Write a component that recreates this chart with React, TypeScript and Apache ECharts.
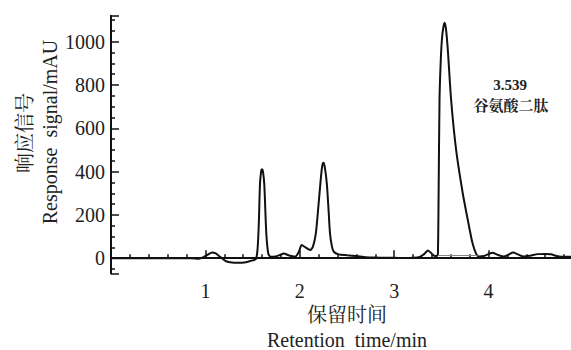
import React, { useEffect, useRef } from "react";
import * as echarts from "echarts";

const retentionTime = [
  0, 0.5, 0.85, 0.93, 0.98, 1.03, 1.07, 1.11, 1.16, 1.22, 1.28, 1.35, 1.43, 1.5, 1.535,
  1.552, 1.565, 1.578, 1.59, 1.6, 1.61, 1.624, 1.645, 1.666, 1.69, 1.74, 1.79, 1.83, 1.88,
  1.95, 1.99, 2.02, 2.06, 2.11, 2.14, 2.17, 2.195, 2.218, 2.237, 2.25, 2.263, 2.286, 2.305,
  2.32, 2.34, 2.36, 2.41, 2.5, 2.6, 2.7, 2.8, 2.9, 3.0, 3.1, 3.2, 3.27, 3.32, 3.358, 3.4,
  3.43, 3.455, 3.463, 3.47, 3.48, 3.492, 3.505, 3.52, 3.534, 3.548, 3.568, 3.603, 3.656,
  3.726, 3.78, 3.83, 3.87, 3.9, 3.95, 4.04, 4.1, 4.16, 4.21, 4.26, 4.31, 4.37, 4.44, 4.52,
  4.6, 4.66, 4.72, 4.77, 4.85, 5.0,
];
const signal = [
  0, 0, 0, -2, 5, 18, 27, 22, 5, -14, -20, -21, -18, -10, -4,
  40, 150, 340, 400, 411, 400, 340, 116, 22, 7, 8, 15, 22, 14,
  7, 30, 61, 50, 38, 55, 115, 230, 346, 425, 441, 425, 346, 220,
  115, 55, 30, 18, 14, 10, 5, 3, 2, 2, 1, 2, 6, 20, 36, 20,
  10, 12, 20, 269, 731, 900, 1008, 1065, 1088, 1060, 962, 731, 500,
  300, 176, 69, 19, 8, 10, 25, 15, 8, 16, 26, 18, 8, 12, 19,
  20, 18, 10, 7, 7, 7,
];
const peakLabelTime = "3.539";
const peakLabelName = "谷氨酸二肽";
const baselineStart = [3.463, 14];
const baselineEnd = [3.884, 14];
const xTickLabels = [1, 2, 3, 4];
const yTickLabels = [0, 200, 400, 600, 800, 1000];

const FONT = "'Liberation Serif', 'Noto Serif CJK SC', 'Noto Sans CJK SC', serif";
const TXT = "#222";

function txt(text: string, x: number, y: number, size: number, extra: any = {}) {
  return {
    type: "text",
    x,
    y,
    rotation: extra.rotation || 0,
    style: {
      text,
      fontFamily: FONT,
      fontSize: size,
      fontWeight: extra.bold ? "bold" : "normal",
      fill: TXT,
      align: "center",
      verticalAlign: "middle",
    },
  };
}

export default function App() {
  const ref = useRef<HTMLDivElement>(null);
  useEffect(() => {
    if (!ref.current) return;
    const chart = echarts.init(ref.current, undefined, { renderer: "svg" });
    const data = retentionTime.map((t, i) => [t, signal[i]]);
    chart.setOption({
      animation: false,
      backgroundColor: "#fff",
      grid: { left: 111, right: 0, top: 15.7, bottom: 76.6, containLabel: false },
      xAxis: {
        type: "value",
        min: 0,
        max: 5,
        interval: 1,
        axisLine: { show: true, lineStyle: { color: "#111", width: 2 } },
        axisTick: { show: true, inside: true, length: 8, lineStyle: { color: "#111", width: 1.5 } },
        minorTick: { show: true, splitNumber: 5, length: 4, lineStyle: { color: "#111", width: 1.5 } },
        splitLine: { show: false },
        axisLabel: {
          fontFamily: FONT,
          fontSize: 20,
          color: TXT,
          margin: 8,
          formatter: (v: number) => (xTickLabels.includes(v) ? String(v) : ""),
        },
      },
      yAxis: {
        type: "value",
        min: -70,
        max: 1120,
        splitNumber: 5,
        axisLine: { show: true, lineStyle: { color: "#111", width: 2 } },
        axisTick: { show: true, inside: true, length: 8, lineStyle: { color: "#111", width: 1.5 } },
        minorTick: { show: true, splitNumber: 4, length: 4, lineStyle: { color: "#111", width: 1.5 } },
        splitLine: { show: false },
        axisLabel: {
          fontFamily: FONT,
          fontSize: 20,
          color: TXT,
          margin: 6,
          formatter: (v: number) => (yTickLabels.includes(v) ? String(v) : ""),
        },
      },
      series: [
        {
          type: "line",
          data,
          smooth: 0.25,
          showSymbol: false,
          lineStyle: { color: "#111", width: 2 },
          markLine: {
            silent: true,
            symbol: "none",
            label: { show: false },
            lineStyle: { color: "#888", width: 1, type: "solid" },
            data: [[{ coord: baselineStart }, { coord: baselineEnd }]],
          },
        },
      ],
      graphic: [
        txt(peakLabelTime, 510, 85, 15, { bold: true }),
        txt(peakLabelName, 511, 106, 15, { bold: true }),
        txt("保留时间", 347, 315, 20),
        txt("Retention  time/min", 347, 340, 20),
        txt("响应信号", 25, 133, 20, { rotation: Math.PI / 2 }),
        txt("Response  signal/mAU", 50, 132, 20, { rotation: Math.PI / 2 }),
      ],
    });
    return () => chart.dispose();
  }, []);
  return (
    <div
      style={{ position: "fixed", left: 0, top: 0, width: 571, height: 350, overflow: "hidden", background: "#fff" }}
    >
      <div ref={ref} style={{ width: 586, height: 350 }} />
    </div>
  );
}
